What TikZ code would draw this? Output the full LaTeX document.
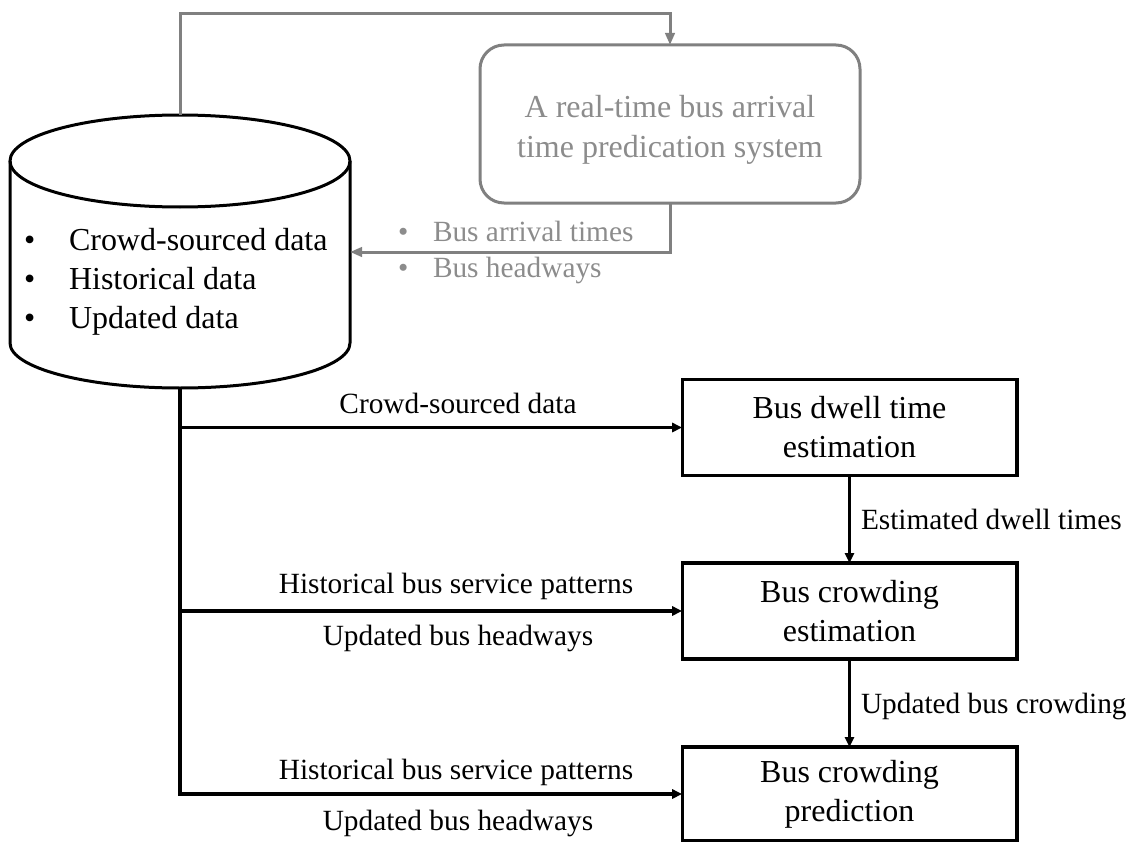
\documentclass[tikz,border=0pt]{standalone}
\usepackage{fontspec}
\setmainfont{Liberation Serif}
\usetikzlibrary{arrows.meta}
\definecolor{linegray}{HTML}{808080}
\definecolor{textgray}{HTML}{8C8C8C}

\begin{document}
\begin{tikzpicture}[x=0.75pt,y=0.75pt,
  every node/.style={inner sep=0pt, outer sep=0pt},
  link/.style={line width=2.4pt, -{Triangle[length=7.5pt,width=6.8pt]}},
  glink/.style={line width=2.25pt, draw=linegray, -{Triangle[length=9pt,width=7pt]}},
  procbox/.style={draw, line width=2.5pt, minimum width=251pt, minimum height=72pt,
    align=center, font=\fontsize{24}{29.25}\selectfont},
  sysbox/.style={draw=linegray, line width=2.25pt, rounded corners=18pt,
    minimum width=285pt, minimum height=118.5pt},
  systext/.style={align=center, text=textgray, font=\fontsize{24}{30}\selectfont},
  lbl/.style={anchor=base, font=\fontsize{22}{26}\selectfont},
  dbtext/.style={anchor=base west, font=\fontsize{24}{29}\selectfont},
  gtext/.style={anchor=base west, text=textgray, font=\fontsize{22}{26}\selectfont}
]
\useasboundingbox (0,0) rectangle (1136,-842);

% database cylinder
\node (db) at (180,-251.5) [minimum width=255pt, minimum height=204.75pt] {};
\draw[line width=2.25pt] (180,-161) ellipse [x radius=170, y radius=46];
\draw[line width=2.25pt] (10,-161) -- (10,-343)
  arc[start angle=180, end angle=360, x radius=170, y radius=45] -- (350,-161);
\foreach \yy/\txt in {250/Crowd-sourced data, 289/Historical data, 328/Updated data}{
  \node[dbtext] at (24,-\yy) {•};
  \node[dbtext] at (69,-\yy) {\txt};
}

% real-time prediction system
\node[sysbox] (rt) at (670,-124) {};
\node[systext] (rttext) at (670,-130) {A real-time bus arrival\\time predication system};
\coordinate (topturn) at (670,-14);
\coordinate (dbR) at (350,-252);
\draw[glink] (db.north) |- (topturn) -- (rt.north);
\draw[glink] (rt.south) |- (dbR);
\node[gtext] at (398,-241) {•};
\node[gtext] at (433,-241) {Bus arrival times};
\node[gtext] at (398,-277) {•};
\node[gtext] at (433,-277) {Bus headways};

% processing chain
\node[procbox] (b1) at (849.5,-427.5) {Bus dwell time\\estimation};
\node[procbox] (b2) at (849.5,-611) {Bus crowding\\estimation};
\node[procbox, minimum height=70.5pt] (b3) at (849.5,-794) {Bus crowding\\prediction};

\draw[link] (db.south) |- (b3.west);
\draw[link] (db.south |- b1.west) -- (b1.west);
\draw[link] (db.south |- b2.west) -- (b2.west);
\draw[link] (b1.south) -- (b2.north);
\draw[link] (b2.south) -- (b3.north);

\node[lbl] at (458,-413) {Crowd-sourced data};
\node[lbl] at (456,-593) {Historical bus service patterns};
\node[lbl] at (458,-645) {Updated bus headways};
\node[lbl] at (456,-779) {Historical bus service patterns};
\node[lbl] at (458,-830) {Updated bus headways};
\node[lbl, anchor=base west] at (861,-529) {Estimated dwell times};
\node[lbl, anchor=base west] at (861,-713) {Updated bus crowding};
\end{tikzpicture}
\end{document}
